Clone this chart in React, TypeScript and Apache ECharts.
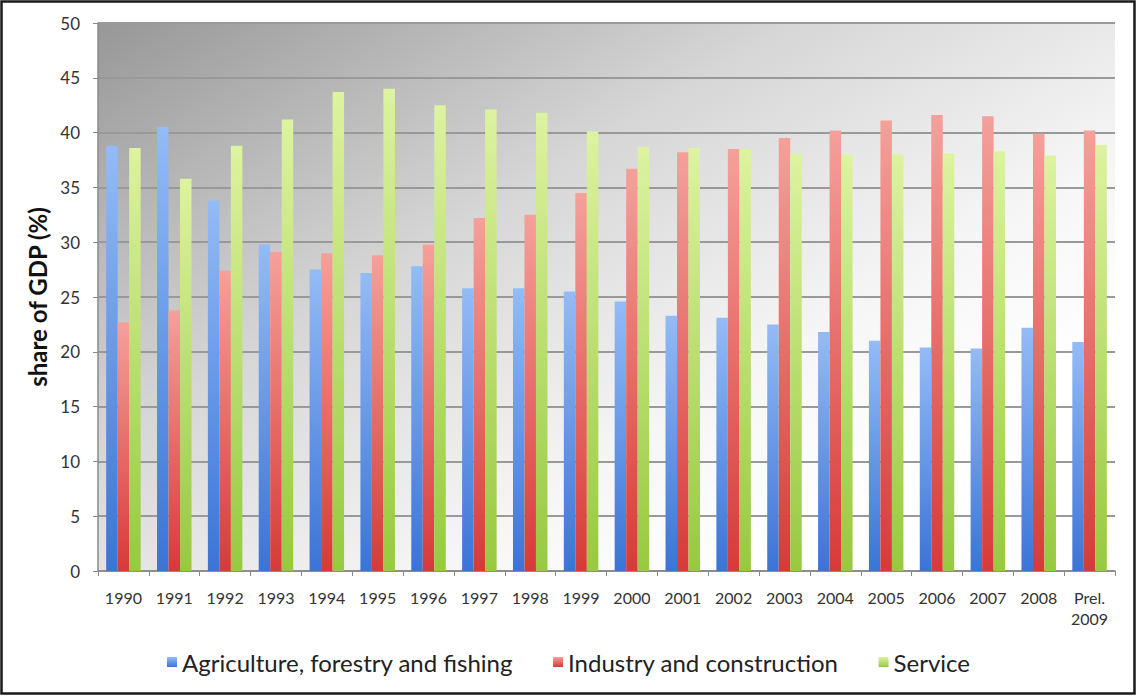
import React, { useEffect, useRef } from "react";
import * as echarts from "echarts";

// Years on the category axis
const years = [
  "1990", "1991", "1992", "1993", "1994", "1995", "1996", "1997", "1998", "1999",
  "2000", "2001", "2002", "2003", "2004", "2005", "2006", "2007", "2008", "Prel.\n2009",
];

// Sector shares of GDP, percent
const agriculture = [
  38.8, 40.5, 33.8, 29.8, 27.5, 27.2, 27.8, 25.8, 25.8, 25.5,
  24.6, 23.3, 23.1, 22.5, 21.8, 21.0, 20.4, 20.3, 22.2, 20.9,
];
const industry = [
  22.7, 23.8, 27.4, 29.1, 29.0, 28.8, 29.8, 32.2, 32.5, 34.5,
  36.7, 38.2, 38.5, 39.5, 40.2, 41.1, 41.6, 41.5, 39.9, 40.2,
];
const service = [
  38.6, 35.8, 38.8, 41.2, 43.7, 44.0, 42.5, 42.1, 41.8, 40.1,
  38.7, 38.6, 38.5, 38.1, 38.0, 38.0, 38.1, 38.3, 37.9, 38.9,
];

const seriesNames = [
  "Agriculture, forestry and fishing",
  "Industry and construction",
  "Service",
];

const FONT = "Lato, 'Open Sans', sans-serif";

// Light at the top of each bar, saturated at the base
const barFill = (top: string, bottom: string) =>
  new echarts.graphic.LinearGradient(0, 0, 0, 1, [
    { offset: 0, color: top },
    { offset: 1, color: bottom },
  ]);

export default function App() {
  const ref = useRef<HTMLDivElement>(null);

  useEffect(() => {
    if (!ref.current) return;
    const chart = echarts.init(ref.current, undefined, { renderer: "svg" });

    const fills = [
      barFill("#93bbf6", "#3b74d6"),
      barFill("#f5a09a", "#d73a38"),
      barFill("#ddf3a0", "#97c940"),
    ];
    const values = [agriculture, industry, service];

    chart.setOption({
      animation: false,
      backgroundColor: "#ffffff",
      textStyle: { fontFamily: FONT },
      graphic: [
        {
          type: "rect",
          shape: { x: 1.5, y: 1.5, width: 1133, height: 692 },
          style: { fill: "none", stroke: "#1a1a1a", lineWidth: 2.5 },
          silent: true,
          z: 100,
        },
      ],
      grid: {
        left: 98,
        top: 23,
        right: 22,
        bottom: 125,
        show: true,
        borderWidth: 0,
        backgroundColor: new echarts.graphic.LinearGradient(0, 0, 0.85, 0.75, [
          { offset: 0, color: "#979797" },
          { offset: 0.45, color: "#d6d6d6" },
          { offset: 0.8, color: "#f6f6f6" },
          { offset: 1, color: "#ffffff" },
        ]),
      },
      legend: {
        top: 645,
        left: "center",
        itemWidth: 10,
        itemHeight: 10,
        itemGap: 40,
        icon: "rect",
        textStyle: { fontSize: 24, color: "#222", fontFamily: FONT },
        data: seriesNames,
      },
      xAxis: {
        type: "category",
        data: years,
        axisLine: { lineStyle: { color: "#8a8a8a", width: 1.5 } },
        axisTick: { show: true, length: 5, lineStyle: { color: "#8a8a8a" } },
        axisLabel: {
          color: "#333",
          fontSize: 16,
          margin: 16,
          lineHeight: 21,
          interval: 0,
          fontFamily: FONT,
        },
      },
      yAxis: {
        type: "value",
        min: 0,
        max: 50,
        interval: 5,
        name: "share of GDP (%)",
        nameLocation: "middle",
        nameGap: 43,
        nameTextStyle: { fontSize: 24, fontWeight: "bold", color: "#111", fontFamily: FONT },
        axisLine: { show: true, lineStyle: { color: "#8a8a8a", width: 1.5 } },
        axisTick: { show: true, length: 5, lineStyle: { color: "#8a8a8a" } },
        axisLabel: { color: "#333", fontSize: 17, margin: 18, fontFamily: FONT },
        splitLine: { lineStyle: { color: "#999", width: 2 } },
      },
      series: seriesNames.map((name, i) => ({
        name,
        type: "bar",
        data: values[i],
        barWidth: 11.5,
        barGap: "0%",
        itemStyle: { color: fills[i] },
      })),
    });

    return () => chart.dispose();
  }, []);

  return (
    <div
      ref={ref}
      style={{ position: "fixed", left: 0, top: 0, width: 1137, height: 696 }}
    />
  );
}
